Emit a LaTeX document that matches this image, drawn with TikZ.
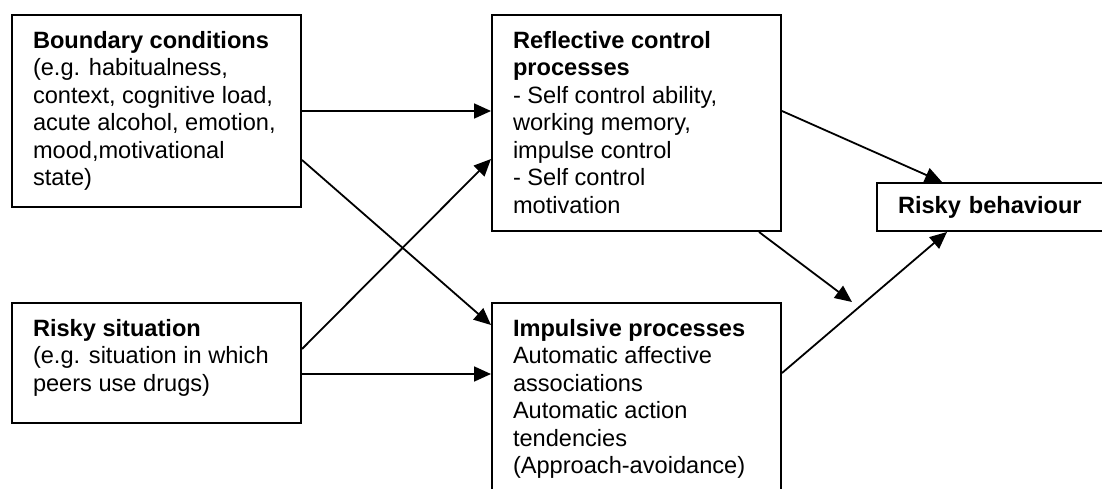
\documentclass[tikz,border=0pt]{standalone}
\usepackage{fontspec}
\setmainfont{Liberation Sans}
\usetikzlibrary{arrows.meta, calc}

\newcommand{\boxtext}[2]{\parbox[t][#1][t]{247pt}{\raggedright #2}}

\begin{document}
\begin{tikzpicture}[
      x=1pt, y=-1pt,
      box/.style={draw, line width=2pt, anchor=north west, inner xsep=21pt, inner ysep=16pt, font=\fontsize{23.6}{27.5}\selectfont},
      link/.style={->, line width=1.8pt},
      >={Triangle[length=17pt, width=15pt]}
    ]
    \useasboundingbox (0,0) rectangle (1102,489);
    \clip (0,0) rectangle (1102,489);

    % Input boxes
    \node[box] (bound) at (11,14) {\boxtext{160pt}{\textbf{Boundary conditions}\\
      (e.g. habitualness,\\ context, cognitive load,\\ acute alcohol, emotion,\\ mood,motivational\\ state)}};
    \node[box] (sit) at (11,302) {\boxtext{88pt}{\textbf{Risky situation}\\
      (e.g. situation in which\\ peers use drugs)}};

    % Process boxes
    \node[box] (refl) at (491,14) {\boxtext{184pt}{\textbf{Reflective control}\\ \textbf{processes}\\
      - Self control ability,\\ working memory,\\ impulse control\\ - Self control\\ motivation}};
    \node[box] (impl) at (491,302) {\boxtext{166pt}{\textbf{Impulsive processes}\\
      Automatic affective\\ associations\\ Automatic action\\ tendencies\\ (Approach-avoidance)}};

    % Outcome box
    \node[box, inner ysep=0pt, minimum height=48pt, text width=230pt, align=left] (risk) at (876,182) {\textbf{Risky behaviour}};
    \coordinate (meet) at (852,302);

    % Links
    \draw[link] (bound.east) -- (bound.east -| refl.west);
    \draw[link] ($(bound.south east)+(0,-48)$) -- ($(impl.north west)+(0,23)$);
    \draw[link] ($(sit.north east)+(0,47)$) -- ($(refl.north west)+(0,145)$);
    \draw[link] ($(sit.north east)+(0,72)$) -- ($(impl.north west)+(0,72)$);
    \draw[link] ($(refl.north east)+(0,97)$) -- ($(risk.north west)+(66,0)$);
    \draw[link] ($(refl.south east)+(-23,0)$) -- (meet);
    \draw[link] ($(impl.north east)+(0,71)$) -- ($(risk.south west)+(71,0)$);
  \end{tikzpicture}
\end{document}
